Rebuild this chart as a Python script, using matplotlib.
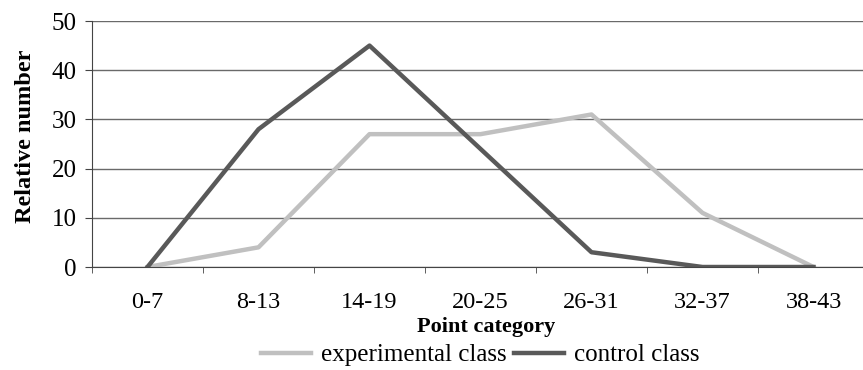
import matplotlib.pyplot as plt
import numpy as np

plt.rcParams['font.family'] = ['Liberation Serif', 'DejaVu Serif']

# categories and values
categories = ["0-7", "8-13", "14-19", "20-25", "26-31", "32-37", "38-43"]
experimental = [0, 4, 27, 27, 31, 11, 0]
control = [0, 28, 45, 24, 3, 0, 0]

fig = plt.figure(figsize=(8.63, 3.70), dpi=100)
ax = fig.add_axes([92 / 863, 1 - 267 / 370, 777 / 863, 246 / 370])

x = np.arange(len(categories))
ax.plot(x, experimental, color="#c0c0c0", lw=3.2, label="experimental class")
ax.plot(x, control, color="#595959", lw=3.2, label="control class")

ax.set_xlim(-0.5, len(categories) - 0.5)
ax.set_ylim(0, 50)
ax.set_yticks([0, 10, 20, 30, 40, 50])
ax.yaxis.grid(True, color="#6a6a6a", lw=1)
ax.set_axisbelow(True)

ax.set_xticks(x)
ax.set_xticklabels(categories)
ax.set_xticks(np.arange(len(categories) + 1) - 0.5, minor=True)
ax.tick_params(axis="x", which="major", length=0, pad=18, labelsize=17.5)
ax.tick_params(axis="x", which="minor", length=4.5, color="#444", direction="out")
ax.tick_params(axis="y", length=5, color="#444", labelsize=18, pad=6)

for s in ["top", "right"]:
    ax.spines[s].set_visible(False)
ax.spines["left"].set_color("#444")
ax.spines["bottom"].set_color("#444")

ax.set_ylabel("Relative number", fontsize=17.5, fontweight="bold", va="center")
ax.yaxis.set_label_coords(-0.086, 0.53)
ax.set_xlabel("Point category", fontsize=16, fontweight="bold", va="center")
ax.xaxis.set_label_coords(0.507, -0.245)

ax.legend(loc="center", bbox_to_anchor=(480 / 863, 1 - 355 / 370), bbox_transform=fig.transFigure,
          ncol=2, frameon=False, fontsize=18, handlelength=2.0, columnspacing=0.3,
          handletextpad=0.4, borderaxespad=0, borderpad=0)

fig.savefig("out.png", dpi=100)
